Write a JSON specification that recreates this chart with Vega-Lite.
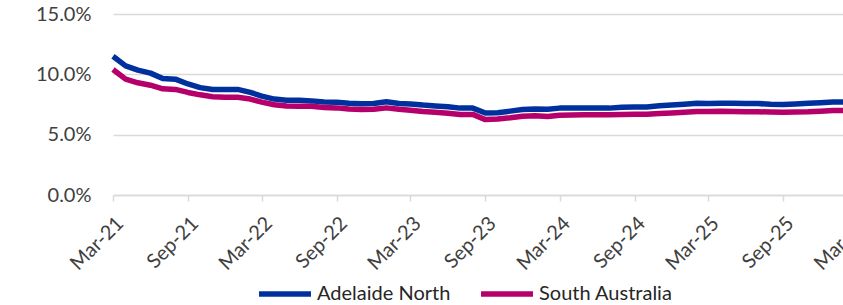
{
  "$schema": "https://vega.github.io/schema/vega-lite/v6.json",
  "autosize": {"type": "none"},
  "padding": {"left": 113, "top": 14, "right": 0, "bottom": 110},
  "width": 744,
  "height": 181,
  "background": "white",
  "config": {
    "view": {"stroke": null},
    "font": "Lato"
  },
  "data": {
    "values": [
      {"date": "2021-03-01", "Adelaide North": 11.5, "South Australia": 10.4},
      {"date": "2021-04-01", "Adelaide North": 10.7, "South Australia": 9.6},
      {"date": "2021-05-01", "Adelaide North": 10.35, "South Australia": 9.3},
      {"date": "2021-06-01", "Adelaide North": 10.1, "South Australia": 9.1},
      {"date": "2021-07-01", "Adelaide North": 9.65, "South Australia": 8.8},
      {"date": "2021-08-01", "Adelaide North": 9.6, "South Australia": 8.75},
      {"date": "2021-09-01", "Adelaide North": 9.2, "South Australia": 8.5},
      {"date": "2021-10-01", "Adelaide North": 8.9, "South Australia": 8.3},
      {"date": "2021-11-01", "Adelaide North": 8.75, "South Australia": 8.15},
      {"date": "2021-12-01", "Adelaide North": 8.75, "South Australia": 8.1},
      {"date": "2022-01-01", "Adelaide North": 8.75, "South Australia": 8.1},
      {"date": "2022-02-01", "Adelaide North": 8.5, "South Australia": 7.95},
      {"date": "2022-03-01", "Adelaide North": 8.2, "South Australia": 7.7},
      {"date": "2022-04-01", "Adelaide North": 7.95, "South Australia": 7.48},
      {"date": "2022-05-01", "Adelaide North": 7.85, "South Australia": 7.38},
      {"date": "2022-06-01", "Adelaide North": 7.85, "South Australia": 7.35},
      {"date": "2022-07-01", "Adelaide North": 7.8, "South Australia": 7.35},
      {"date": "2022-08-01", "Adelaide North": 7.7, "South Australia": 7.25},
      {"date": "2022-09-01", "Adelaide North": 7.68, "South Australia": 7.22},
      {"date": "2022-10-01", "Adelaide North": 7.6, "South Australia": 7.12},
      {"date": "2022-11-01", "Adelaide North": 7.56, "South Australia": 7.08},
      {"date": "2022-12-01", "Adelaide North": 7.58, "South Australia": 7.1},
      {"date": "2023-01-01", "Adelaide North": 7.73, "South Australia": 7.22},
      {"date": "2023-02-01", "Adelaide North": 7.58, "South Australia": 7.1},
      {"date": "2023-03-01", "Adelaide North": 7.55, "South Australia": 7.03},
      {"date": "2023-04-01", "Adelaide North": 7.45, "South Australia": 6.92},
      {"date": "2023-05-01", "Adelaide North": 7.38, "South Australia": 6.85},
      {"date": "2023-06-01", "Adelaide North": 7.32, "South Australia": 6.78},
      {"date": "2023-07-01", "Adelaide North": 7.2, "South Australia": 6.68},
      {"date": "2023-08-01", "Adelaide North": 7.2, "South Australia": 6.68},
      {"date": "2023-09-01", "Adelaide North": 6.8, "South Australia": 6.25},
      {"date": "2023-10-01", "Adelaide North": 6.82, "South Australia": 6.3},
      {"date": "2023-11-01", "Adelaide North": 6.95, "South Australia": 6.4},
      {"date": "2023-12-01", "Adelaide North": 7.08, "South Australia": 6.52},
      {"date": "2024-01-01", "Adelaide North": 7.12, "South Australia": 6.57},
      {"date": "2024-02-01", "Adelaide North": 7.1, "South Australia": 6.5},
      {"date": "2024-03-01", "Adelaide North": 7.2, "South Australia": 6.6},
      {"date": "2024-04-01", "Adelaide North": 7.22, "South Australia": 6.63},
      {"date": "2024-05-01", "Adelaide North": 7.2, "South Australia": 6.65},
      {"date": "2024-06-01", "Adelaide North": 7.2, "South Australia": 6.65},
      {"date": "2024-07-01", "Adelaide North": 7.2, "South Australia": 6.65},
      {"date": "2024-08-01", "Adelaide North": 7.28, "South Australia": 6.68},
      {"date": "2024-09-01", "Adelaide North": 7.3, "South Australia": 6.7},
      {"date": "2024-10-01", "Adelaide North": 7.3, "South Australia": 6.7},
      {"date": "2024-11-01", "Adelaide North": 7.4, "South Australia": 6.75},
      {"date": "2024-12-01", "Adelaide North": 7.45, "South Australia": 6.8},
      {"date": "2025-01-01", "Adelaide North": 7.52, "South Australia": 6.85},
      {"date": "2025-02-01", "Adelaide North": 7.6, "South Australia": 6.92},
      {"date": "2025-03-01", "Adelaide North": 7.58, "South Australia": 6.92},
      {"date": "2025-04-01", "Adelaide North": 7.6, "South Australia": 6.95},
      {"date": "2025-05-01", "Adelaide North": 7.6, "South Australia": 6.93},
      {"date": "2025-06-01", "Adelaide North": 7.58, "South Australia": 6.9},
      {"date": "2025-07-01", "Adelaide North": 7.58, "South Australia": 6.9},
      {"date": "2025-08-01", "Adelaide North": 7.52, "South Australia": 6.87},
      {"date": "2025-09-01", "Adelaide North": 7.5, "South Australia": 6.86},
      {"date": "2025-10-01", "Adelaide North": 7.55, "South Australia": 6.88},
      {"date": "2025-11-01", "Adelaide North": 7.6, "South Australia": 6.9},
      {"date": "2025-12-01", "Adelaide North": 7.65, "South Australia": 6.95},
      {"date": "2026-01-01", "Adelaide North": 7.7, "South Australia": 7.0},
      {"date": "2026-02-01", "Adelaide North": 7.7, "South Australia": 7.0}
    ]
  },
  "transform": [
    {"fold": ["Adelaide North", "South Australia"], "as": ["series", "rate"]}
  ],
  "mark": {"type": "line", "strokeWidth": 5.5, "strokeJoin": "round", "strokeCap": "butt"},
  "encoding": {
    "x": {
      "field": "date",
      "type": "temporal",
      "scale": {
        "type": "utc",
        "domain": [
          {"year": 2021, "month": 3, "date": 1, "utc": true},
          {"year": 2026, "month": 3, "date": 1, "utc": true}
        ]
      },
      "axis": {
        "title": null,
        "labelExpr": "utcFormat(datum.value, '%b-%y')",
        "values": [
          {"year": 2021, "month": 3, "date": 1, "utc": true},
          {"year": 2021, "month": 9, "date": 1, "utc": true},
          {"year": 2022, "month": 3, "date": 1, "utc": true},
          {"year": 2022, "month": 9, "date": 1, "utc": true},
          {"year": 2023, "month": 3, "date": 1, "utc": true},
          {"year": 2023, "month": 9, "date": 1, "utc": true},
          {"year": 2024, "month": 3, "date": 1, "utc": true},
          {"year": 2024, "month": 9, "date": 1, "utc": true},
          {"year": 2025, "month": 3, "date": 1, "utc": true},
          {"year": 2025, "month": 9, "date": 1, "utc": true},
          {"year": 2026, "month": 3, "date": 1, "utc": true}
        ],
        "labelAngle": -45,
        "labelFontSize": 20,
        "labelColor": "#404040",
        "labelPadding": 12,
        "labelOverlap": false,
        "labelFlush": false,
        "labelBound": false,
        "grid": false,
        "domain": true,
        "domainColor": "#d9d9d9",
        "domainWidth": 1.5,
        "ticks": true,
        "tickColor": "#d9d9d9",
        "tickWidth": 1.5,
        "tickSize": 6
      }
    },
    "y": {
      "field": "rate",
      "type": "quantitative",
      "scale": {"domain": [0, 15], "nice": false, "zero": true},
      "axis": {
        "title": null,
        "values": [0, 5, 10, 15],
        "labelExpr": "format(datum.value, '.1f') + '%'",
        "labelFontSize": 20,
        "labelColor": "#404040",
        "labelPadding": 22,
        "domain": false,
        "ticks": false,
        "grid": true,
        "gridColor": "#d9d9d9",
        "gridWidth": 1.5
      }
    },
    "color": {
      "field": "series",
      "type": "nominal",
      "scale": {
        "domain": ["Adelaide North", "South Australia"],
        "range": ["#00309e", "#b5006b"]
      },
      "legend": {
        "title": null,
        "orient": "none",
        "legendX": 143,
        "legendY": 251,
        "direction": "horizontal",
        "symbolType": "stroke",
        "symbolSize": 2700,
        "symbolStrokeWidth": 5.5,
        "labelFontSize": 20,
        "labelColor": "#262626",
        "labelOffset": 3,
        "columnPadding": 19,
        "padding": 0
      }
    }
  }
}
